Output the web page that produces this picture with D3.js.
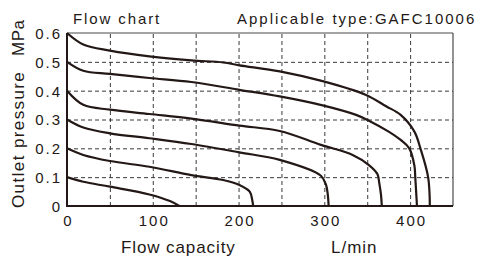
<!DOCTYPE html>
<html>
<head>
<meta charset="utf-8">
<script src="https://cdn.jsdelivr.net/npm/d3@7"></script>
<style>
  body { margin: 0; background: #fff; }
  svg text { font-family: "Liberation Sans", Arial, sans-serif; fill: #231815; }
</style>
</head>
<body>
<div id="chart"></div>
<script>
// curve data: [flow L/min, outlet pressure MPa]
var curve01 = [[0,0.1],[19,0.084],[50,0.067],[96,0.04],[120,0.017],[131,0]];
var curve02 = [[0,0.2],[19,0.177],[50,0.156],[96,0.136],[145,0.107],[182,0.09],[201,0.073],[213,0.05],[216,0.02],[217,0]];
var curve03 = [[0,0.3],[19,0.272],[50,0.252],[96,0.235],[145,0.215],[201,0.186],[248,0.16],[296,0.105],[302,0.073],[304,0.04],[305,0]];
var curve04 = [[0,0.4],[19,0.351],[50,0.334],[96,0.319],[145,0.303],[201,0.279],[248,0.26],[296,0.212],[333,0.177],[352,0.142],[362,0.11],[364,0.08],[366,0.04],[367,0]];
var curve05 = [[0,0.5],[19,0.469],[50,0.458],[96,0.444],[145,0.43],[201,0.403],[248,0.38],[298,0.349],[337,0.316],[352,0.296],[375,0.258],[389,0.229],[399,0.2],[405,0.14],[406,0.1],[408,0]];
var curve06 = [[0,0.6],[19,0.56],[50,0.539],[96,0.519],[145,0.505],[182,0.498],[201,0.488],[248,0.467],[298,0.433],[348,0.386],[372,0.346],[389,0.316],[405,0.258],[412,0.2],[421,0.1],[423,0]];
var curves = [curve01, curve02, curve03, curve04, curve05, curve06];

var xTicks = [0, 100, 200, 300, 400];
var xGrid = [50, 100, 150, 200, 250, 300, 350, 400];
var yTicks = [0, 0.1, 0.2, 0.3, 0.4, 0.5, 0.6];
var yGrid = [0.1, 0.2, 0.3, 0.4, 0.5];

var WIDTH = 477, HEIGHT = 257;
var ink = "#231815";

var svg = d3.select("#chart").append("svg")
    .attr("width", WIDTH)
    .attr("height", HEIGHT);

var x = d3.scaleLinear().domain([0, 450]).range([67, 453]);
var y = d3.scaleLinear().domain([0, 0.6]).range([206, 33]);

// dashed grid
svg.append("g")
    .attr("transform", "translate(0," + y(0) + ")")
    .call(d3.axisBottom(x).tickValues(xGrid).tickSize(-(y(0) - y(0.6))).tickFormat(""))
    .call(function(g) { g.select(".domain").remove(); })
    .selectAll("line")
    .attr("stroke", "#3a3a3a")
    .attr("stroke-dasharray", "4,3");

svg.append("g")
    .attr("transform", "translate(" + x(0) + ",0)")
    .call(d3.axisLeft(y).tickValues(yGrid).tickSize(-(x(450) - x(0))).tickFormat(""))
    .call(function(g) { g.select(".domain").remove(); })
    .selectAll("line")
    .attr("stroke", "#3a3a3a")
    .attr("stroke-dasharray", "4,3");

// frame: thin top/right, heavy left/bottom
svg.append("line")
    .attr("x1", x(0)).attr("x2", x(450)).attr("y1", y(0.6)).attr("y2", y(0.6))
    .attr("stroke", "#4a4a4a").attr("stroke-width", 1.2);
svg.append("line")
    .attr("x1", x(450)).attr("x2", x(450)).attr("y1", y(0.6)).attr("y2", y(0))
    .attr("stroke", "#4a4a4a").attr("stroke-width", 1.2);

// curves
var line = d3.line()
    .x(function(d) { return x(d[0]); })
    .y(function(d) { return y(d[1]); })
    .curve(d3.curveCatmullRom.alpha(0.5));

svg.selectAll(".curve")
    .data(curves)
    .enter().append("path")
    .attr("class", "curve")
    .attr("d", line)
    .attr("fill", "none")
    .attr("stroke", ink)
    .attr("stroke-width", 2.2)
    .attr("stroke-linejoin", "round");

svg.append("line")
    .attr("x1", x(0)).attr("x2", x(0)).attr("y1", y(0.6)).attr("y2", y(0) + 1)
    .attr("stroke", ink).attr("stroke-width", 2);
svg.append("line")
    .attr("x1", x(0) - 1).attr("x2", x(450)).attr("y1", y(0)).attr("y2", y(0))
    .attr("stroke", ink).attr("stroke-width", 2);

// tick labels
var xAxis = svg.append("g")
    .attr("transform", "translate(0," + y(0) + ")")
    .call(d3.axisBottom(x).tickValues(xTicks).tickSize(0).tickFormat(d3.format("d")));
xAxis.select(".domain").remove();
xAxis.selectAll("text")
    .attr("y", 20)
    .attr("dy", 0)
    .attr("dx", 1)
    .style("font-size", "15px")
    .style("letter-spacing", "2px")
    .style("fill", ink)
    .style("font-family", "'Liberation Sans', Arial, sans-serif");

var yAxis = svg.append("g")
    .attr("transform", "translate(" + x(0) + ",0)")
    .call(d3.axisLeft(y).tickValues(yTicks).tickSize(0)
        .tickFormat(function(d) { return d === 0 ? "0" : d3.format(".1f")(d); }));
yAxis.select(".domain").remove();
yAxis.selectAll("text")
    .attr("x", -5)
    .attr("dy", "0.36em")
    .style("font-size", "15px")
    .style("letter-spacing", "2px")
    .style("fill", ink)
    .style("font-family", "'Liberation Sans', Arial, sans-serif");

// titles
svg.append("text")
    .attr("x", 73).attr("y", 24)
    .style("font-size", "15px").style("letter-spacing", "1.9px")
    .text("Flow chart");

svg.append("text")
    .attr("x", 237).attr("y", 24)
    .style("font-size", "15px").style("letter-spacing", "2px")
    .text("Applicable type:GAFC10006");

svg.append("text")
    .attr("x", 121).attr("y", 253)
    .style("font-size", "17px").style("letter-spacing", "0.9px")
    .text("Flow capacity");

svg.append("text")
    .attr("x", 331).attr("y", 253)
    .style("font-size", "17px").style("letter-spacing", "1px")
    .text("L/min");

svg.append("text")
    .attr("transform", "translate(24,208) rotate(-90)")
    .style("font-size", "17px").style("letter-spacing", "1.4px")
    .text("Outlet pressure");

svg.append("text")
    .attr("transform", "translate(24,56) rotate(-90)")
    .style("font-size", "17px").style("letter-spacing", "0.5px")
    .text("MPa");
</script>
</body>
</html>
